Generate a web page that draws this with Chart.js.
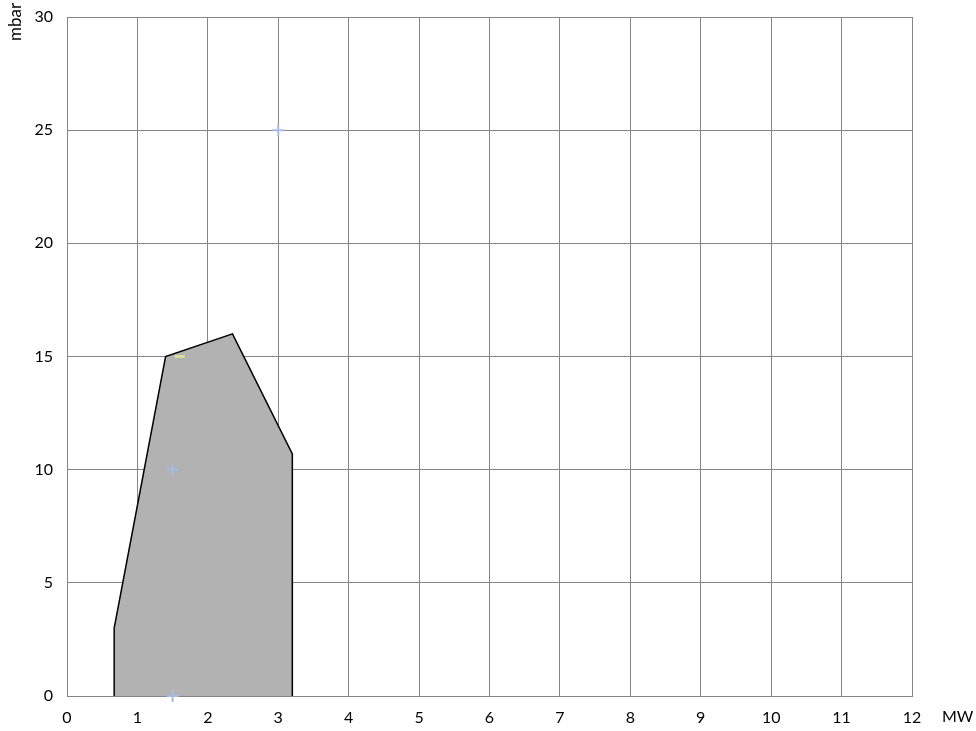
<!DOCTYPE html>
<html>
<head>
<meta charset="utf-8">
<script src="https://cdn.jsdelivr.net/npm/chart.js@4.4.1/dist/chart.umd.min.js"></script>
<style>
  html, body { margin: 0; padding: 0; background: #fff; }
  #wrap { width: 976px; height: 731px; }
</style>
</head>
<body>
<div id="wrap"><canvas id="chart" width="976" height="731"></canvas></div>
<script>
// Campo di lavoro (MW / mbar)
const areaX = [0.67, 0.67, 1.4, 2.35, 3.2, 3.2];
const areaY = [0, 3, 15, 16, 10.7, 0];
const crossX = [1.5, 1.5, 3];
const crossY = [0, 10, 25];
const dashX = [1.6];
const dashY = [15];
const xTicks = [0, 1, 2, 3, 4, 5, 6, 7, 8, 9, 10, 11, 12];
const yTicks = [0, 5, 10, 15, 20, 25, 30];

const FONT = 'Lato, "Open Sans", sans-serif';
const gridColor = '#868686';

function pts(xs, ys) {
    return xs.map((x, i) => ({ x: x, y: ys[i] }));
}

// titoli degli assi
const axisTitles = {
    id: 'axisTitles',
    afterDraw(chart) {
        const ctx = chart.ctx;
        ctx.save();
        ctx.fillStyle = '#000';
        ctx.font = '16px ' + FONT;
        ctx.textBaseline = 'middle';
        ctx.textAlign = 'left';
        ctx.fillText('MW', 942, 717);
        ctx.translate(16, 22);
        ctx.rotate(-Math.PI / 2);
        ctx.textAlign = 'center';
        ctx.font = '17px ' + FONT;
        ctx.fillText('mbar', 0, 0);
        ctx.restore();
    }
};

new Chart(document.getElementById('chart'), {
    type: 'scatter',
    data: {
        datasets: [
            {
                data: pts(areaX, areaY),
                showLine: true,
                fill: true,
                backgroundColor: '#b2b2b2',
                borderColor: '#000',
                borderWidth: 1.5,
                pointRadius: 0,
                tension: 0,
                order: 3
            },
            {
                data: pts(crossX, crossY),
                pointStyle: 'cross',
                pointRadius: 6,
                borderWidth: 2,
                borderColor: '#a7bbe3',
                clip: false,
                order: 1
            },
            {
                data: pts(dashX, dashY),
                pointStyle: 'line',
                pointRadius: 5,
                borderWidth: 3,
                borderColor: '#d9df98',
                clip: false,
                order: 0
            }
        ]
    },
    options: {
        responsive: false,
        animation: false,
        layout: { padding: { top: 17, right: 64, left: 0, bottom: 0 } },
        plugins: { legend: { display: false }, tooltip: { enabled: false } },
        scales: {
            x: {
                type: 'linear',
                min: 0,
                max: 12,
                afterBuildTicks: (s) => { s.ticks = xTicks.map(v => ({ value: v })); },
                afterFit: (s) => { s.height = 35; s.paddingLeft = 0; s.paddingRight = 0; },
                grid: { color: gridColor, lineWidth: 1, drawTicks: false },
                border: { color: gridColor, width: 1 },
                ticks: { color: '#000', font: { size: 16, family: FONT }, padding: 12, maxRotation: 0 }
            },
            y: {
                type: 'linear',
                min: 0,
                max: 30,
                afterBuildTicks: (s) => { s.ticks = yTicks.map(v => ({ value: v })); },
                afterFit: (s) => { s.width = 67; s.paddingTop = 0; s.paddingBottom = 0; },
                grid: { color: gridColor, lineWidth: 1, drawTicks: false },
                border: { color: gridColor, width: 1 },
                ticks: { color: '#000', font: { size: 16, family: FONT }, padding: 14 }
            }
        }
    },
    plugins: [axisTitles]
});
</script>
</body>
</html>
